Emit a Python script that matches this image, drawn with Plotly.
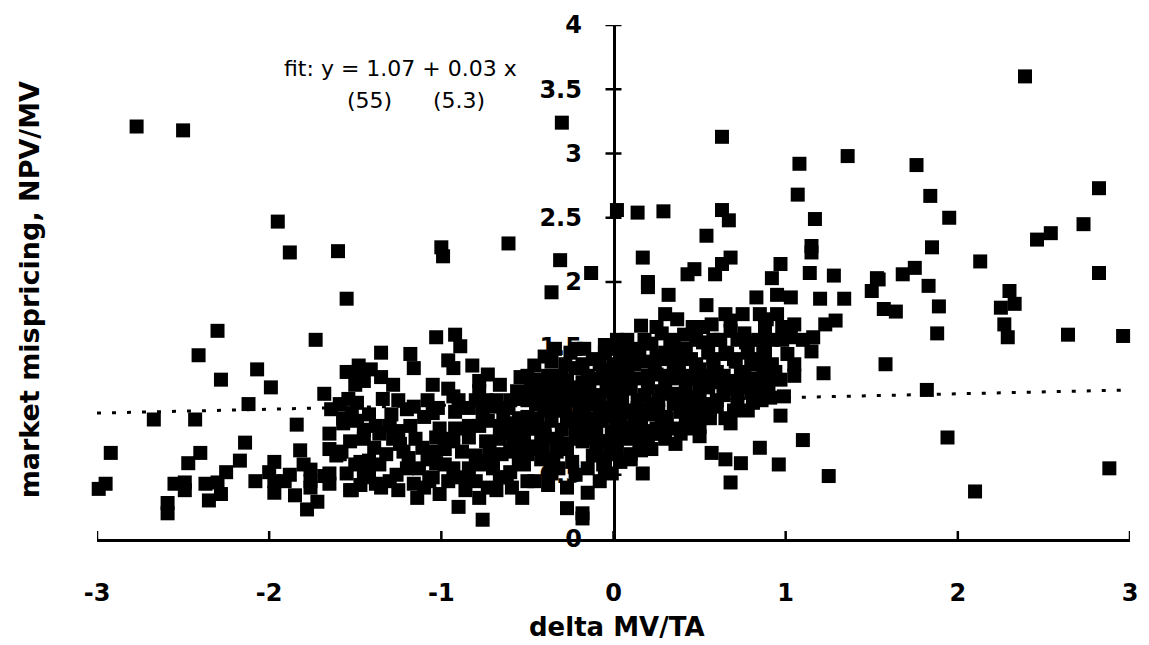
import plotly.graph_objects as go

# delta MV/TA (x) against market mispricing NPV/MV (y), one entry per firm
delta_mv_ta = [
    -2.77, -2.50, -0.30, 2.39,
    1.76, 1.84, 1.95, 1.85, 2.13, 2.82, 2.73, 2.54, 2.46, 2.82, 1.54, 1.50, 1.68, 1.75,
    1.83, 1.57, 1.64, 1.89, 1.88, 2.30, 2.33, 2.25, 2.27, 2.29, 2.64, 2.96, 1.58, 1.82,
    1.94, 2.88, 2.10,
    0.63, 1.08, 1.36, 1.07, 0.02, 0.14, 0.29, 0.63, 0.67, 1.17, 0.54, 1.15, 1.15, 0.17,
    0.68, 0.63, 0.97, 0.47, 0.43, 0.59, 1.14, 1.28, 0.92, 1.53, 0.20,
    0.20, 0.32, 0.54, 0.83, 0.95, 1.03, 1.20, 1.34, 0.95, 0.65, 0.89, 1.29, 1.23, 1.05,
    0.37, 0.16, 0.46, 0.57, 0.68, 0.41, 0.76, 1.16, 1.03, 0.02, -0.05, 0.12, 0.22, 0.33,
    0.52, 0.77, 0.87, 1.01, 1.15, 1.22, 0.85, 0.71, 0.66, 0.58, 0.45, 0.31, 0.18, 0.06,
    0.74, 0.87, 0.94, 0.97, 0.87, 0.70, 0.58, 0.47, 0.37, 0.25, 0.14, 0.01, 0.80, 0.91,
    0.99, 0.81, 0.71, 0.64, 0.60, 0.52, 0.47, 0.52, 0.37, 0.28, 0.18, 0.10, -0.01, 0.39,
    0.31, 0.22, 0.14, 0.06, 0.97, 0.50, 0.39, 0.27, 0.18, 0.08, -0.01, 1.10, 0.85, 0.57,
    0.65, 0.74, 0.96, 1.25, 0.68, 0.17, 0.16, -0.01, -0.01, -0.05,
    -1.55, -0.36, -1.03, -0.92, -0.89, -1.35, -1.18, -1.16, -0.96, -0.93, -1.55, -1.49,
    -1.41, -1.35, -1.45, -0.73, -0.78, -0.54, -0.44, -0.96, -0.78, -0.93, -0.84, -0.92,
    -0.70, -0.61, -0.55, -0.47, -0.37, -0.34, -0.36, -0.22, -0.17, -0.22, -0.09, -0.03,
    -0.27, -1.54, -1.49, -1.59, -1.34, -1.42, -1.29, -1.20, -1.16, -1.57, -1.49, -1.01,
    -0.92, -0.84, -0.73, -1.53, -1.36, -1.25, -1.39, -1.24, -1.32, -1.42, -1.59, -1.55,
    -1.42, -1.38, -1.53, -1.30, -1.19, -1.11, -1.03, -0.93, -0.84, -0.74, -0.65, -0.55,
    -0.46, -0.36, -0.27, -0.17, -0.07, -1.13, -1.03, -0.93, -0.84, -0.74, -0.65, -0.53,
    -0.41, -0.30, -0.18, -0.07, -1.16, -1.07, -0.96, -0.80, -0.73, -1.14, -1.01, -0.78,
    -0.90, -0.76, -0.59, -0.53, -0.46, -0.36, -0.27, -0.15, -0.27, -0.18, -0.18, -0.05,
    -2.30, -1.73, -2.41, -2.07, -2.28, -1.99, -1.68, -2.12, -2.67, -2.43, -1.64, -1.84,
    -1.57, -1.65, -2.14, -2.92, -2.40, -1.82, -1.61, -2.47, -2.17, -1.97, -1.76, -1.65,
    -2.99, -2.95, -2.55, -2.49, -2.49, -2.37, -2.30, -2.28, -2.35, -2.08, -1.97, -1.91,
    -1.97, -1.85, -1.76, -1.76, -1.68, -1.65, -1.72, -1.78, -2.59, -2.59, -1.52,
    -1.95, -1.88, -1.60, -1.00, -0.99, -0.61, -0.31, -0.13,
    -0.50, -0.45, -0.40, -0.35, -0.30, -0.25, -0.20, -0.15, -0.10, -0.05, 0.00, 0.05,
    -0.42, -0.33, -0.24, -0.12, -0.02, 0.04, -0.48, -0.38, -0.28, -0.18, -0.08, 0.02,
    0.10, 0.25, 0.35, 0.42, 0.50, 0.55, 0.45, 0.35, 0.22, 0.12, 0.30, 0.42, 0.08, 0.28,
    0.62, 0.68, 0.48, 0.78, 0.92, 0.82, 0.75, 0.60, -0.58, -0.62, -0.68, -0.56, -0.46,
    -0.40, -0.12, -0.06, -0.15, -0.08, -0.22, 0.06, 0.15, -0.32, -0.44, -0.52, -0.60,
    -0.70, -0.80, -0.88, -0.98, -1.08, -1.20, -1.26, -1.10, -0.86, -0.66, -0.50, -0.38,
    -1.30, -1.10, -0.80, -1.02, -1.45, -1.65, -1.80, -1.88, -2.00, -2.25, -1.47, -1.35,
    -1.47,
    # central cluster
    -0.55, -0.35, -0.05, 0.10,
    -0.58, -0.47, -0.27, -0.10, 0.02, 0.22,
    -0.52, -0.42, -0.33, -0.22, -0.12, 0.00, 0.10, 0.20, 0.30,
    -0.60, -0.50, -0.40, -0.20, -0.12, 0.02, 0.12, 0.25, 0.34, 0.44,
    -0.55, -0.45, -0.25, -0.12, 0.04, 0.16, 0.28, 0.45, 0.56, 0.65,
    -0.40, -0.28, -0.18, -0.02, 0.08, 0.18, 0.26, 0.40, 0.56, 0.70, 0.78,
    -0.60, -0.50, -0.40, -0.30, -0.20, -0.12, 0.00, 0.14, 0.26, 0.40, 0.50, 0.60, 0.72, 0.86,
    -0.42, -0.34, -0.24, -0.14, -0.04, 0.06, 0.20, 0.30, 0.42, 0.50, 0.64, 0.78, 0.90,
    -0.50, -0.38, -0.30, -0.15, -0.04, 0.08, 0.20, 0.32, 0.42, 0.52, 0.64, 0.76, 0.92, 1.05,
    -0.28, -0.18, -0.08, 0.00, 0.12, 0.24, 0.38, 0.48, 0.58, 0.80, 0.92, 1.05,
    -0.25, -0.05, 0.05, 0.15, 0.30, 0.38, 0.55, 0.65, 0.88,
    0.08, 0.18, 0.35, 0.58, 0.72, 0.84, 0.98, 1.10,
    0.25, 0.52, 0.88, 0.98,
    0.30, 0.75, 0.85,
    -0.36, -0.16, 0.06, 0.20, 0.34, 0.48, 0.62, 0.70, 0.84,
    -0.44, -0.30, -0.08, 0.10, 0.24, 0.36, 0.54, 0.68,
    -0.50, -0.38, -0.22, -0.06, 0.30, 0.50,
    # left-hand cluster
    -1.25, -0.68,
    -1.45, -1.05, -0.88, -0.62,
    -1.50, -1.36, -0.98, -0.78, -0.70,
    -1.58, -1.22, -1.04, -0.72, -0.60,
    -1.45, -1.28, -1.15, -0.98, -0.66,
    -1.38, -1.18, -0.78, -0.66,
    -1.52, -1.05, -0.76, -0.64,
    -1.25, -1.08, -0.90, -0.74,
    -1.50, -1.28, -1.05, -0.66,
    -1.48, -0.82,
]
npv_mv = [
    3.21, 3.18, 3.24, 3.60,
    2.91, 2.67, 2.50, 2.27, 2.16, 2.73, 2.45, 2.38, 2.33, 2.07, 2.02, 1.93, 2.06, 2.11,
    1.97, 1.79, 1.77, 1.81, 1.60, 1.93, 1.83, 1.80, 1.67, 1.57, 1.59, 1.58, 1.36, 1.16,
    0.79, 0.55, 0.37,
    3.13, 2.92, 2.98, 2.68, 2.56, 2.54, 2.55, 2.56, 2.48, 2.49, 2.36, 2.28, 2.23, 2.19,
    2.19, 2.14, 2.14, 2.10, 2.06, 2.06, 2.07, 2.05, 2.03, 2.03, 2.00,
    1.96, 1.90, 1.82, 1.88, 1.90, 1.88, 1.87, 1.87, 1.75, 1.75, 1.71, 1.70, 1.67, 1.67,
    1.71, 1.66, 1.65, 1.67, 1.70, 1.59, 1.60, 1.57, 1.57, 1.55, 1.51, 1.48, 1.52, 1.50,
    1.53, 1.53, 1.48, 1.44, 1.46, 1.29, 1.40, 1.38, 1.44, 1.40, 1.40, 1.40, 1.38, 1.36,
    1.30, 1.33, 1.30, 1.24, 1.23, 1.23, 1.25, 1.25, 1.25, 1.28, 1.25, 1.25, 1.15, 1.10,
    1.11, 1.06, 1.17, 1.12, 1.03, 1.05, 1.02, 0.97, 1.12, 1.15, 1.12, 1.17, 1.15, 0.99,
    0.94, 0.97, 1.02, 0.99, 0.96, 0.87, 0.82, 0.82, 0.84, 0.86, 0.84, 0.77, 0.71, 0.67,
    0.62, 0.59, 0.58, 0.49, 0.44, 0.51, 0.69, 0.66, 0.51, 0.76,
    1.87, 1.92, 1.57, 1.59, 1.50, 1.45, 1.44, 1.33, 1.39, 1.33, 1.30, 1.30,
    1.32, 1.26, 1.23, 1.28, 1.23, 1.26, 1.24, 1.17, 1.15, 1.11, 1.02, 0.99,
    1.03, 1.02, 1.09, 1.09, 1.11, 1.48, 1.38, 1.48, 1.48, 1.33, 1.25, 1.48,
    1.23, 1.09, 1.06, 1.05, 1.09, 0.97, 0.97, 1.01, 1.03, 0.94, 0.92, 0.86,
    0.86, 0.88, 0.92, 0.76, 0.82, 0.84, 0.71, 0.74, 0.66, 0.61, 0.66, 0.51,
    0.51, 0.43, 0.38, 0.45, 0.63, 0.71, 0.79, 0.76, 0.79, 0.76, 0.82, 0.84,
    0.86, 0.92, 0.92, 0.97, 0.92, 0.55, 0.59, 0.55, 0.55, 0.61, 0.66, 0.69,
    0.71, 0.74, 0.76, 0.76, 0.43, 0.45, 0.45, 0.45, 0.40, 0.32, 0.35, 0.32,
    0.25, 0.15, 0.40, 0.32, 0.45, 0.51, 0.40, 0.36, 0.24, 0.20, 0.16, 0.55,
    1.62, 1.55, 1.43, 1.32, 1.24, 1.18, 1.13, 1.05, 0.93, 0.93, 1.01, 0.89,
    0.90, 0.82, 0.75, 0.67, 0.67, 0.69, 0.65, 0.59, 0.61, 0.60, 0.54, 0.51,
    0.39, 0.43, 0.43, 0.44, 0.38, 0.43, 0.44, 0.35, 0.30, 0.45, 0.45, 0.45,
    0.36, 0.34, 0.45, 0.40, 0.49, 0.43, 0.29, 0.23, 0.28, 0.20, 0.38,
    2.47, 2.23, 2.24, 2.27, 2.20, 2.30, 2.17, 2.07,
    0.95, 1.05, 0.80, 1.00, 0.85, 1.10, 0.88, 1.05, 0.82, 1.02, 0.95, 1.10,
    0.62, 0.68, 0.60, 0.65, 0.72, 0.60, 1.18, 1.20, 1.15, 1.22, 1.12, 1.30,
    1.45, 1.42, 1.35, 1.48, 1.32, 1.18, 1.10, 1.05, 1.05, 0.92, 0.88, 0.92, 1.30, 1.60,
    1.55, 1.62, 1.55, 1.45, 1.55, 1.25, 1.20, 1.30, 0.78, 0.90, 1.08, 1.15, 1.35,
    1.42, 1.40, 1.32, 0.55, 0.45, 0.50, 0.80, 0.75, 0.55, 0.72, 0.58, 0.52,
    0.55, 0.65, 0.68, 0.70, 0.62, 0.55, 0.50, 0.40, 0.38, 0.48, 0.45, 0.42,
    0.88, 0.95, 1.08, 1.02, 0.85, 0.70, 0.58, 0.50, 0.52, 0.52, 0.60, 0.40,
    0.42,
    # central cluster
    0.62, 0.62, 0.62, 0.62,
    0.70, 0.70, 0.70, 0.70, 0.70, 0.70,
    0.78, 0.78, 0.78, 0.78, 0.78, 0.78, 0.78, 0.78, 0.78,
    0.86, 0.86, 0.86, 0.86, 0.86, 0.86, 0.86, 0.86, 0.86, 0.86,
    0.94, 0.94, 0.94, 0.94, 0.94, 0.94, 0.94, 0.94, 0.94, 0.94,
    1.00, 1.00, 1.00, 1.00, 1.00, 1.00, 1.00, 1.00, 1.00, 1.00, 1.00,
    1.08, 1.08, 1.08, 1.08, 1.08, 1.08, 1.08, 1.08, 1.08, 1.08, 1.08, 1.08, 1.08, 1.08,
    1.18, 1.18, 1.18, 1.18, 1.18, 1.18, 1.18, 1.18, 1.18, 1.18, 1.18, 1.18, 1.18,
    1.27, 1.27, 1.27, 1.27, 1.27, 1.27, 1.27, 1.27, 1.27, 1.27, 1.27, 1.27, 1.27, 1.27,
    1.36, 1.36, 1.36, 1.36, 1.36, 1.36, 1.36, 1.36, 1.36, 1.36, 1.36, 1.36,
    1.45, 1.45, 1.45, 1.45, 1.45, 1.45, 1.45, 1.45, 1.45,
    1.55, 1.55, 1.55, 1.55, 1.55, 1.55, 1.55, 1.55,
    1.65, 1.65, 1.65, 1.65,
    1.75, 1.75, 1.75,
    1.22, 1.13, 1.31, 1.22, 1.13, 1.31, 1.22, 1.40, 1.13,
    0.90, 0.74, 0.98, 0.66, 0.82, 0.74, 0.98, 0.90,
    0.66, 1.02, 0.88, 0.58, 0.95, 0.80,
    # left-hand cluster
    0.38, 0.38,
    0.48, 0.48, 0.48, 0.48,
    0.58, 0.58, 0.58, 0.58, 0.58,
    0.68, 0.68, 0.68, 0.68, 0.68,
    0.78, 0.78, 0.78, 0.78, 0.78,
    0.88, 0.88, 0.88, 0.88,
    0.98, 0.98, 0.98, 0.98,
    1.08, 1.08, 1.08, 1.08,
    1.20, 1.20, 1.20, 1.20,
    1.35, 1.35,
]

# least-squares fit reported on the chart
fit_intercept = 1.07
fit_slope = 0.03
fit_x = [-3, 3]

x_ticks = [-3, -2, -1, 0, 1, 2, 3]
y_ticks = [0, 0.5, 1, 1.5, 2, 2.5, 3, 3.5, 4]
y_tick_text = ["0", "0.5", "1", "1.5", "2", "2.5", "3", "3.5", "4"]

BOLD = dict(family="DejaVu Sans", size=24, color="black", weight="bold")
PLAIN = dict(family="DejaVu Sans", size=22, color="black")

fig = go.Figure()

fig.add_trace(go.Scatter(
    x=fit_x,
    y=[fit_intercept + fit_slope * v for v in fit_x],
    mode="lines",
    line=dict(color="black", width=3, dash="4px,11px"),
    hoverinfo="skip",
    showlegend=False,
))

fig.add_trace(go.Scatter(
    x=delta_mv_ta,
    y=npv_mv,
    mode="markers",
    marker=dict(symbol="square", size=14, color="black", line=dict(width=0)),
    cliponaxis=False,
    showlegend=False,
))

# tick marks that straddle both axis lines
shapes = []
for v in y_ticks[1:]:
    shapes.append(dict(type="line", xref="x", yref="y", xsizemode="pixel", xanchor=0,
                       x0=-8, x1=8, y0=v, y1=v, line=dict(color="black", width=2.5)))
for v in x_ticks:
    shapes.append(dict(type="line", xref="x", yref="y", ysizemode="pixel", yanchor=0,
                       y0=-8, y1=8, x0=v, x1=v, line=dict(color="black", width=2.5)))

fig.update_layout(
    width=1149,
    height=645,
    margin=dict(l=97, r=11, t=20, b=106),
    paper_bgcolor="white",
    plot_bgcolor="white",
    shapes=shapes,
    xaxis=dict(
        range=[-3, 3],
        tickvals=x_ticks,
        ticktext=[str(v) for v in x_ticks],
        ticks="",
        showline=True,
        linecolor="black",
        linewidth=2.5,
        showgrid=False,
        zeroline=False,
        tickfont=BOLD,
        ticklabelstandoff=30,
    ),
    yaxis=dict(
        range=[0, 4],
        anchor="free",
        position=0.5,
        tickvals=y_ticks,
        ticktext=y_tick_text,
        ticks="",
        showline=True,
        linecolor="black",
        linewidth=2.5,
        showgrid=False,
        zeroline=False,
        tickfont=BOLD,
        ticklabelstandoff=26,
        layer="below traces",
    ),
    annotations=[
        dict(text="fit: y = 1.07 + 0.03 x", xref="x", yref="y", x=-1.925, y=3.66,
             xanchor="left", yanchor="middle", showarrow=False, font=PLAIN),
        dict(text="(55)", xref="x", yref="y", x=-1.56, y=3.41,
             xanchor="left", yanchor="middle", showarrow=False, font=PLAIN),
        dict(text="(5.3)", xref="x", yref="y", x=-1.06, y=3.41,
             xanchor="left", yanchor="middle", showarrow=False, font=PLAIN),
        dict(text="delta MV/TA", xref="paper", yref="paper", x=0.5034, y=-0.172,
             xanchor="center", yanchor="middle", showarrow=False,
             font=dict(family="DejaVu Sans", size=26, color="black", weight="bold")),
        dict(text="market mispricing, NPV/MV", xref="paper", yref="paper", x=-0.065, y=0.4855,
             xanchor="center", yanchor="middle", textangle=-90, showarrow=False,
             font=dict(family="DejaVu Sans", size=27, color="black", weight="bold")),
    ],
)

fig.write_html("out.html")
